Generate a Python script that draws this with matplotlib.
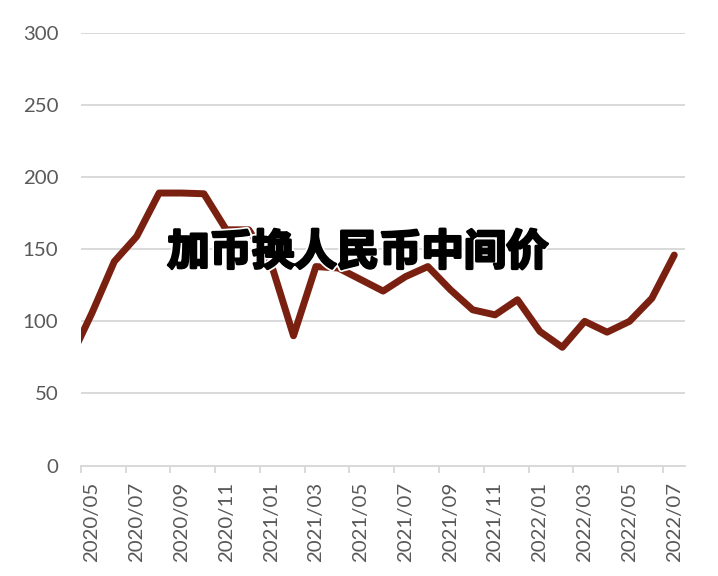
import matplotlib
matplotlib.use("Agg")
import matplotlib.pyplot as plt
import matplotlib.patheffects as pe
import numpy as np

# monthly series, the first month is only partly visible at the left edge
months = ["2020/04", "2020/05", "2020/06", "2020/07", "2020/08", "2020/09", "2020/10",
          "2020/11", "2020/12", "2021/01", "2021/02", "2021/03", "2021/04", "2021/05",
          "2021/06", "2021/07", "2021/08", "2021/09", "2021/10", "2021/11", "2021/12",
          "2022/01", "2022/02", "2022/03", "2022/04", "2022/05", "2022/06", "2022/07"]
values = [73, 105.7, 141.5, 158.9, 189, 189, 188.5,
          163.5, 163.5, 140, 90, 138, 137, 129,
          121, 131, 138, 122, 108, 104.5, 115,
          93, 82, 100, 92.5, 100, 116, 146]
y_ticks = [0, 50, 100, 150, 200, 250, 300]
title = "加币换人民币中间价"

grey_text = "#595959"
grid_col = "#d9d9d9"

fig = plt.figure(figsize=(7.18, 5.76), dpi=100)
ax = fig.add_axes([0.1124, 0.1918, 0.8423, 0.7509])

x = np.arange(len(months))
ax.plot(x, values, color="#7a2010", lw=5, solid_capstyle="round", solid_joinstyle="round", zorder=3)

ax.set_xlim(0.5, len(months) - 0.5)
ax.set_ylim(0, 300)
ax.set_yticks(y_ticks)
ax.set_yticklabels([str(v) for v in y_ticks], fontfamily="Lato", fontsize=14.7, color=grey_text)
ax.tick_params(axis="y", length=0, pad=16)
ax.yaxis.grid(True, color=grid_col, lw=1.4)
ax.set_axisbelow(True)

# labels at every second month centre, tick marks on the boundaries
lab_idx = x[1::2]
ax.set_xticks(lab_idx)
ax.set_xticklabels([months[i] for i in lab_idx], rotation=90,
                   fontfamily="Lato", fontsize=14.7, color=grey_text)
ax.set_xticks(lab_idx - 0.5, minor=True)
ax.tick_params(axis="x", which="major", length=0, pad=12)
ax.tick_params(axis="x", which="minor", length=5, width=1.4, color=grid_col, direction="out")

for s in ["top", "right", "left"]:
    ax.spines[s].set_visible(False)
ax.spines["bottom"].set_color(grid_col)
ax.spines["bottom"].set_linewidth(1.4)

fig.text(0.4986, 0.5608, title, ha="center", va="center", fontsize=30.5,
         fontweight="black", color="black",
         family=["Noto Sans CJK SC", "DejaVu Sans"],
         path_effects=[pe.Stroke(linewidth=4.5, foreground="white"),
                       pe.Stroke(linewidth=2, foreground="black"),
                       pe.Normal()], zorder=5)

fig.savefig("out.png", dpi=100)
